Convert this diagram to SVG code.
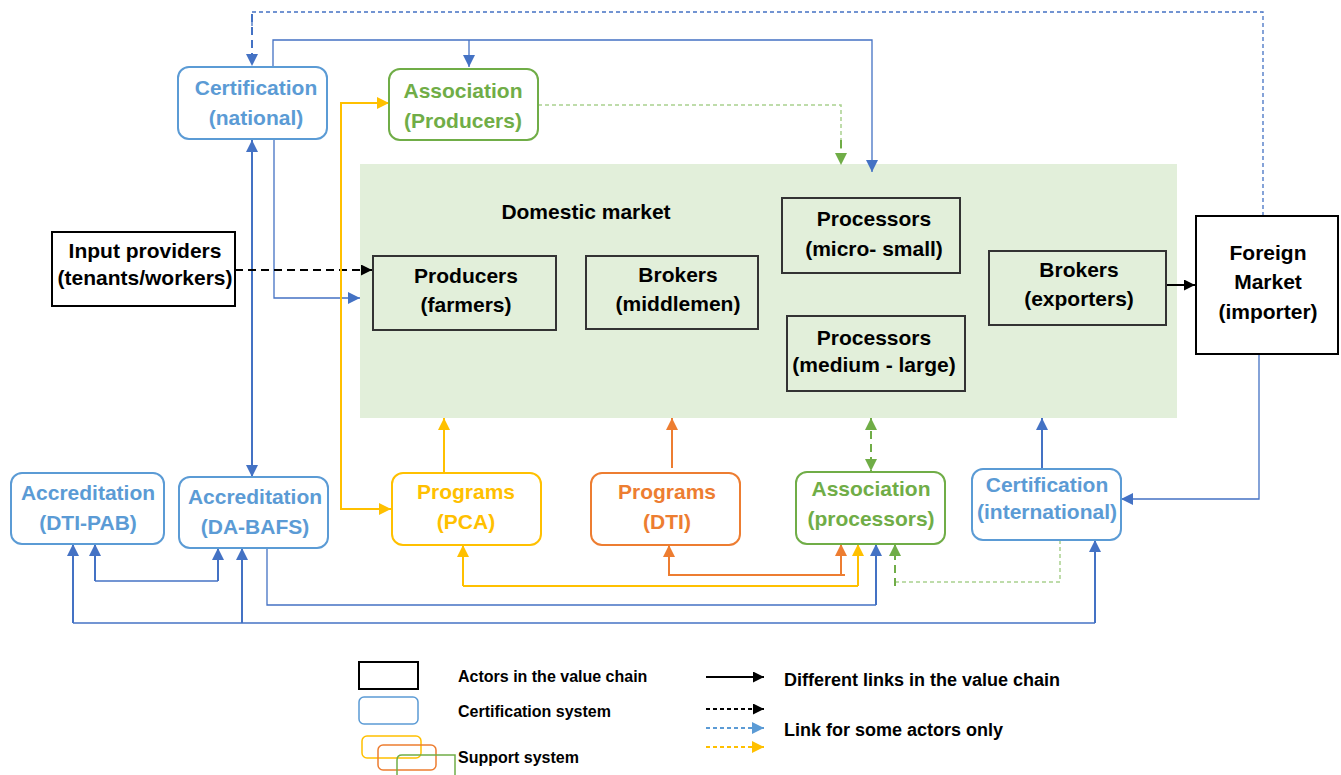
<svg xmlns="http://www.w3.org/2000/svg" width="1341" height="775" viewBox="0 0 1341 775">
  <style>
    text { font-family: "Liberation Sans", Arial, sans-serif; font-weight: bold; text-anchor: middle; }
    .actor { fill: #E2EFDA; stroke: #333; stroke-width: 2; }
    .ext { fill: #fff; stroke: #000; stroke-width: 2; }
    .cert { fill: #fff; stroke: #5B9BD5; stroke-width: 2; }
    .green { fill: #fff; stroke: #70AD47; stroke-width: 2; }
    .yellow { fill: #fff; stroke: #FFC000; stroke-width: 2; }
    .orange { fill: #fff; stroke: #ED7D31; stroke-width: 2; }
    .tblue { fill: #5B9BD5; font-size: 21px; }
    .tgreen { fill: #70AD47; font-size: 21px; }
    .tyellow { fill: #FFC000; font-size: 21px; }
    .torange { fill: #ED7D31; font-size: 21px; }
    .tblack { fill: #000; font-size: 21px; }
    .leg { fill: #000; font-size: 16px; text-anchor: start; }
    .leg2 { fill: #000; font-size: 18px; text-anchor: start; }
    .c { fill: none; }
    .b { stroke: #4472C4; stroke-width: 2; }
    .bt { stroke: #4472C4; stroke-width: 1.3; }
    .g { stroke: #70AD47; stroke-width: 2; }
    .gt { stroke: #A9D18E; stroke-width: 1.5; }
    .y { stroke: #FFC000; stroke-width: 2; }
    .o { stroke: #ED7D31; stroke-width: 2; }
    .k { stroke: #000; stroke-width: 2; }
    .dash { stroke-dasharray: 8 5; }
    .dasht { stroke-dasharray: 4 3; }
  </style>
  <defs>
    <marker id="ab" viewBox="0 0 10 10" refX="10" refY="5" markerWidth="12" markerHeight="12" markerUnits="userSpaceOnUse" orient="auto-start-reverse"><path d="M0,0 L10,5 L0,10 z" fill="#4472C4"/></marker>
    <marker id="ag" viewBox="0 0 10 10" refX="10" refY="5" markerWidth="12" markerHeight="12" markerUnits="userSpaceOnUse" orient="auto-start-reverse"><path d="M0,0 L10,5 L0,10 z" fill="#70AD47"/></marker>
    <marker id="ay" viewBox="0 0 10 10" refX="10" refY="5" markerWidth="12" markerHeight="12" markerUnits="userSpaceOnUse" orient="auto-start-reverse"><path d="M0,0 L10,5 L0,10 z" fill="#FFC000"/></marker>
    <marker id="ao" viewBox="0 0 10 10" refX="10" refY="5" markerWidth="12" markerHeight="12" markerUnits="userSpaceOnUse" orient="auto-start-reverse"><path d="M0,0 L10,5 L0,10 z" fill="#ED7D31"/></marker>
    <marker id="ak" viewBox="0 0 10 10" refX="10" refY="5" markerWidth="11" markerHeight="11" markerUnits="userSpaceOnUse" orient="auto-start-reverse"><path d="M0,0 L10,5 L0,10 z" fill="#000"/></marker>
    <marker id="al" viewBox="0 0 10 10" refX="10" refY="5" markerWidth="12" markerHeight="12" markerUnits="userSpaceOnUse" orient="auto"><path d="M0,0 L10,5 L0,10 z" fill="#5B9BD5"/></marker>
  </defs>

  <!-- domestic market area -->
  <g id="domestic-market">
    <rect x="360" y="164" width="817" height="254" fill="#E2EFDA"/>
    <text class="tblack" x="586" y="219">Domestic market</text>
  </g>

  <g id="connectors">
    <!-- foreign market to national certification (dashed) -->
    <path class="c bt dasht" d="M1263,216 V12 H252 V30"/>
    <path class="c b dash" d="M252,14 V66" marker-end="url(#ab)"/>
    <!-- national certification to association / processors -->
    <path class="c bt" d="M273,67 V40 H872 V172" marker-end="url(#ab)"/>
    <path class="c bt" d="M469,40 V67" marker-end="url(#ab)"/>
    <!-- association (producers) to processors -->
    <path class="c gt dasht" d="M538,105 H841 V150"/>
    <path class="c g dash" d="M841,140 V165" marker-end="url(#ag)"/>
    <!-- national certification to producers -->
    <path class="c bt" d="M274,139 V298 H360" marker-end="url(#ab)"/>
    <!-- national certification <-> DA-BAFS -->
    <path class="c b" d="M252,140 V477" marker-start="url(#ab)" marker-end="url(#ab)"/>
    <!-- input providers to producers -->
    <path class="c k dash" d="M235,270 H372" marker-end="url(#ak)"/>
    <!-- PCA support lines -->
    <path class="c y" d="M389,103 H341 V509 H391" marker-start="url(#ay)" marker-end="url(#ay)"/>
    <path class="c y" d="M444,473 V418" marker-end="url(#ay)"/>
    <!-- DTI programs -->
    <path class="c o" d="M672,468 V418" marker-end="url(#ao)"/>
    <!-- association (processors) <-> market -->
    <path class="c g dash" d="M871,418 V471" marker-start="url(#ag)" marker-end="url(#ag)"/>
    <!-- international certification to market -->
    <path class="c b" d="M1042,469 V418" marker-end="url(#ab)"/>
    <!-- exporters to foreign market -->
    <path class="c k" d="M1167,285 H1195" marker-end="url(#ak)"/>
    <!-- foreign market to international certification -->
    <path class="c bt" d="M1259,354 V499 H1121" marker-end="url(#ab)"/>
    <!-- accreditation links -->
    <path class="c bt" d="M95,581 H218"/>
    <path class="c b" d="M95,581 V544" marker-end="url(#ab)"/>
    <path class="c b" d="M218,581 V548" marker-end="url(#ab)"/>
    <path class="c bt" d="M73,623 H1095"/>
    <path class="c b" d="M73,623 V544" marker-end="url(#ab)"/>
    <path class="c b" d="M242,623 V548" marker-end="url(#ab)"/>
    <path class="c b" d="M1095,623 V540" marker-end="url(#ab)"/>
    <!-- DA-BAFS to association (processors) -->
    <path class="c bt" d="M267,548 V605 H876"/>
    <path class="c b" d="M876,605 V544" marker-end="url(#ab)"/>
    <!-- PCA to association (processors) -->
    <path class="c y" stroke-width="1.3" d="M463,586 H858"/>
    <path class="c y" d="M463,586 V545" marker-end="url(#ay)"/>
    <path class="c y" d="M858,586 V544" marker-end="url(#ay)"/>
    <!-- DTI to association (processors) -->
    <path class="c o" stroke-width="1.3" d="M669,575 H845"/>
    <path class="c o" d="M669,576 V545" marker-end="url(#ao)"/>
    <path class="c o" d="M841,576 V544" marker-end="url(#ao)"/>
    <!-- international certification to association (processors) -->
    <path class="c gt dasht" d="M1060,540 V582 H895"/>
    <path class="c g dash" d="M895,586 V544" marker-end="url(#ag)"/>
  </g>

  <g id="cert-national">
    <rect class="cert" x="178" y="67" width="149" height="72" rx="11"/>
    <text class="tblue" x="256" y="95">Certification</text>
    <text class="tblue" x="256" y="125">(national)</text>
  </g>
  <g id="assoc-producers">
    <rect class="green" x="389" y="69" width="149" height="71" rx="11"/>
    <text class="tgreen" x="463" y="98">Association</text>
    <text class="tgreen" x="463" y="128">(Producers)</text>
  </g>
  <g id="input-providers">
    <rect class="ext" x="52" y="232" width="183" height="74"/>
    <text class="tblack" font-size="18.5" x="145" y="258">Input providers</text>
    <text class="tblack" font-size="18.5" x="145" y="285">(tenants/workers)</text>
  </g>
  <g id="producers">
    <rect class="actor" x="373" y="256" width="183" height="74"/>
    <text class="tblack" x="466" y="283">Producers</text>
    <text class="tblack" x="466" y="312">(farmers)</text>
  </g>
  <g id="brokers-middlemen">
    <rect class="actor" x="586" y="256" width="172" height="73"/>
    <text class="tblack" x="678" y="282">Brokers</text>
    <text class="tblack" x="678" y="311">(middlemen)</text>
  </g>
  <g id="processors-small">
    <rect class="actor" x="782" y="198" width="178" height="75"/>
    <text class="tblack" x="874" y="226">Processors</text>
    <text class="tblack" x="874" y="256">(micro- small)</text>
  </g>
  <g id="processors-large">
    <rect class="actor" x="787" y="316" width="178" height="75"/>
    <text class="tblack" font-size="19" x="874" y="345">Processors</text>
    <text class="tblack" font-size="19" x="874" y="372">(medium - large)</text>
  </g>
  <g id="brokers-exporters">
    <rect class="actor" x="989" y="251" width="177" height="74"/>
    <text class="tblack" x="1079" y="277">Brokers</text>
    <text class="tblack" x="1079" y="306">(exporters)</text>
  </g>
  <g id="foreign-market">
    <rect class="ext" x="1196" y="216" width="142" height="138"/>
    <text class="tblack" font-size="22" x="1268" y="260">Foreign</text>
    <text class="tblack" font-size="22" x="1268" y="289">Market</text>
    <text class="tblack" font-size="22" x="1268" y="319">(importer)</text>
  </g>
  <g id="accred-dti-pab">
    <rect class="cert" x="11" y="473" width="153" height="71" rx="11"/>
    <text class="tblue" x="88" y="500">Accreditation</text>
    <text class="tblue" x="88" y="530">(DTI-PAB)</text>
  </g>
  <g id="accred-da-bafs">
    <rect class="cert" x="179" y="477" width="149" height="71" rx="11"/>
    <text class="tblue" x="255" y="504">Accreditation</text>
    <text class="tblue" x="255" y="534">(DA-BAFS)</text>
  </g>
  <g id="programs-pca">
    <rect class="yellow" x="392" y="473" width="149" height="72" rx="11"/>
    <text class="tyellow" x="466" y="499">Programs</text>
    <text class="tyellow" x="466" y="529">(PCA)</text>
  </g>
  <g id="programs-dti">
    <rect class="orange" x="591" y="473" width="149" height="72" rx="11"/>
    <text class="torange" x="667" y="499">Programs</text>
    <text class="torange" x="667" y="529">(DTI)</text>
  </g>
  <g id="assoc-processors">
    <rect class="green" x="796" y="472" width="149" height="72" rx="11"/>
    <text class="tgreen" x="871" y="496">Association</text>
    <text class="tgreen" x="871" y="526">(processors)</text>
  </g>
  <g id="cert-international">
    <rect class="cert" x="972" y="469" width="149" height="71" rx="11"/>
    <text class="tblue" font-size="19" x="1047" y="492">Certification</text>
    <text class="tblue" font-size="19" x="1047" y="519">(international)</text>
  </g>

  <g id="legend">
    <rect x="359" y="662" width="59" height="27" fill="#fff" stroke="#000" stroke-width="2"/>
    <rect x="359" y="697" width="59" height="27" rx="5" fill="#fff" stroke="#5B9BD5" stroke-width="1.5"/>
    <rect x="362" y="736" width="59" height="22" rx="5" fill="none" stroke="#FFC000" stroke-width="1.5"/>
    <rect x="378" y="745" width="58" height="25" rx="5" fill="none" stroke="#ED7D31" stroke-width="1.5"/>
    <path d="M397,781 V760 Q397,755 402,755 H455 V781" fill="none" stroke="#70AD47" stroke-width="1.5"/>
    <text class="leg" x="458" y="682">Actors in the value chain</text>
    <text class="leg" x="458" y="717">Certification system</text>
    <text class="leg" x="458" y="763">Support system</text>
    <path class="c k" d="M706,677 H764" marker-end="url(#ak)"/>
    <path class="c k dasht" d="M706,709 H764" marker-end="url(#ak)"/>
    <path d="M706,728 H764" fill="none" stroke="#5B9BD5" stroke-width="2" stroke-dasharray="4 3" marker-end="url(#al)"/>
    <path class="c y dasht" d="M706,747 H764" marker-end="url(#ay)"/>
    <text class="leg2" x="784" y="686">Different links in the value chain</text>
    <text class="leg2" x="784" y="736">Link for some actors only</text>
  </g>
</svg>
